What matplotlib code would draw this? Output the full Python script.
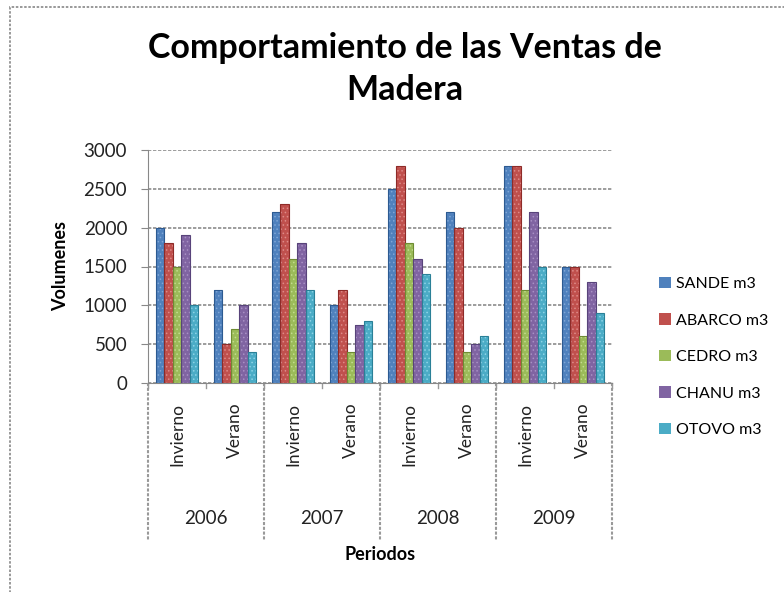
import numpy as np
import matplotlib
matplotlib.use("Agg")
import matplotlib.pyplot as plt
from matplotlib.patches import Rectangle

plt.rcParams['font.family'] = ['Lato', 'DejaVu Sans']
plt.rcParams['hatch.linewidth'] = 0.6

years = ["2006", "2007", "2008", "2009"]
seasons = ["Invierno", "Verano"]
series = ["SANDE m3", "ABARCO m3", "CEDRO m3", "CHANU m3", "OTOVO m3"]
# values per period: 2006 Inv, 2006 Ver, 2007 Inv, ... 2009 Ver
sande = [2000, 1200, 2200, 1000, 2500, 2200, 2800, 1500]
abarco = [1800, 500, 2300, 1200, 2800, 2000, 2800, 1500]
cedro = [1500, 700, 1600, 400, 1800, 400, 1200, 600]
chanu = [1900, 1000, 1800, 750, 1600, 500, 2200, 1300]
otovo = [1000, 400, 1200, 800, 1400, 600, 1500, 900]
colors = ["#4F81BD", "#C0504D", "#9BBB59", "#8064A2", "#4BACC6"]
edges = ["#2C5A91", "#8E2B28", "#6E8C33", "#58437A", "#2A8097"]
dots = ["#7FA6D6", "#DE8A87", "#C3DC8E", "#A890C4", "#8CD3E6"]

fig = plt.figure(figsize=(7.84, 5.92), dpi=100)
ax = fig.add_axes([148/784, 1-383/592, (612-148)/784, (383-150)/592])

data = [sande, abarco, cedro, chanu, otovo]
n = len(sande)
x = np.arange(n) + 0.5
w = 0.148
for k, vals in enumerate(data):
    ax.bar(x + (k - 2) * w, vals, w, color=colors[k], edgecolor=dots[k],
           linewidth=0, hatch='....', zorder=3)
    ax.bar(x + (k - 2) * w, vals, w, facecolor='none', edgecolor=edges[k],
           linewidth=0.8, zorder=4)
    ax.bar([0], [0], 0, color=colors[k], label=series[k])

ax.set_xlim(0, n)
ax.set_ylim(0, 3000)
ax.set_yticks(range(0, 3001, 500))
ax.tick_params(axis='y', labelsize=13.5, length=5, color='#888888', pad=10,
               labelcolor='#222222')
ax.set_xticks([])
for s in ['top', 'right']:
    ax.spines[s].set_visible(False)
for s in ['left', 'bottom']:
    ax.spines[s].set_color('#888888')
ax.yaxis.grid(True, color='#8c8c8c', linestyle=(0, (2, 1)), linewidth=1.2, zorder=0)
ax.set_axisbelow(True)

ax.set_ylabel("Volumenes", fontsize=13, fontweight='bold', labelpad=10)

# multi-level category axis
tr = ax.get_xaxis_transform()
for i in range(n):
    ax.text(x[i], -0.085, seasons[i % 2], rotation=90, ha='center', va='top',
            fontsize=12.5, transform=tr, color='#222222')
for j, yr in enumerate(years):
    ax.text(2 * j + 1, -0.58, yr, ha='center', va='center', fontsize=13.5,
            transform=tr, color='#222222')
for b in range(0, n + 1, 2):
    ax.plot([b, b], [0, -0.675], transform=tr, color='#999999',
            linestyle=(0, (1.5, 0.8)), linewidth=1.5, clip_on=False)
for b in range(0, n + 1):
    ax.plot([b, b], [0, -0.02], transform=tr, color='#999999',
            linewidth=1, clip_on=False)

fig.text(380/784, 1-555/592, "Periodos", ha='center', va='center',
         fontsize=13, fontweight='bold')

fig.text(405/784, 1-69/592, "Comportamiento de las Ventas de\nMadera",
         ha='center', va='center', fontsize=24.5, fontweight='bold',
         linespacing=1.42)

leg = ax.legend(loc='center left', bbox_to_anchor=(645/784, 1-357/592),
                bbox_transform=fig.transFigure, frameon=False, fontsize=11.5,
                handlelength=0.7, handleheight=0.7, labelspacing=1.4,
                handletextpad=0.35)

fig.add_artist(Rectangle((10/784, -0.1), 1.2, 1 - 7/592 + 0.1,
                         transform=fig.transFigure, fill=False,
                         edgecolor='#888888', linestyle=(0, (1.5, 1)),
                         linewidth=1.2))

fig.savefig("out.png", dpi=100)
